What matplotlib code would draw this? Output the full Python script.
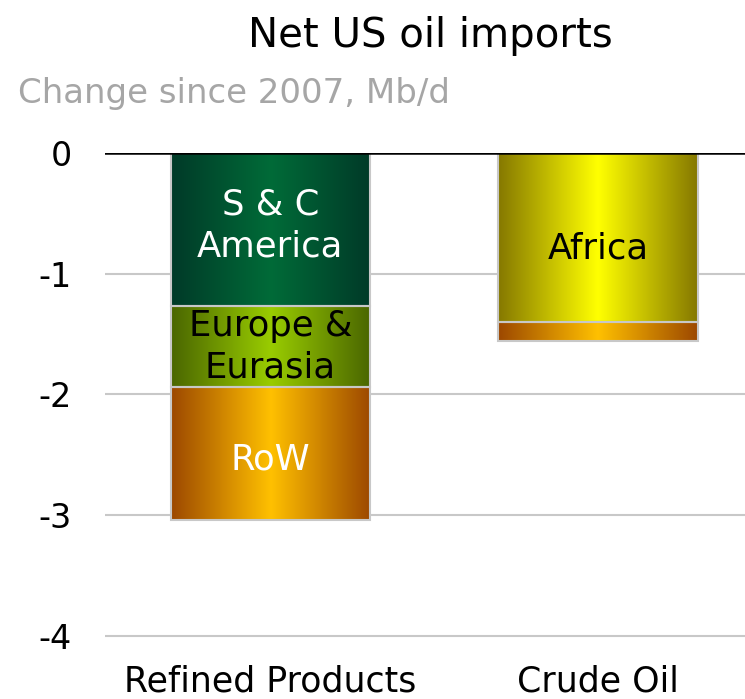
import numpy as np
import matplotlib
matplotlib.use("Agg")
import matplotlib.pyplot as plt
from matplotlib.colors import LinearSegmentedColormap

categories = ["Refined Products", "Crude Oil"]
# stacked segments
seg_cat = [0, 0, 0, 1, 1]
seg_labels = ["S & C\nAmerica", "Europe &\nEurasia", "RoW", "Africa", ""]
seg_values = [-1.27, -0.67, -1.10, -1.40, -0.16]
seg_edge = ["#003a28", "#4a6600", "#9c4800", "#857800", "#9c4800"]
seg_centre = ["#006b38", "#99cc00", "#ffc000", "#ffff00", "#ffc000"]
seg_text = ["white", "black", "white", "black", "black"]
seg_text_offset = [3, 0, -4, -8, 0]  # points, visual nudge of labels
yticks = [0, -1, -2, -3, -4]

fam = ["DejaVu Sans"]
plt.rcParams["font.family"] = fam
fig = plt.figure(figsize=(7.45, 6.99), dpi=100)
ax = fig.add_axes([105/745, 1-636/699 - 0.003, (745-105)/745, (636-153)/699 + 0.003])

width = 0.608
bottoms = {0: 0.0, 1: 0.0}
grad = np.abs(np.linspace(-1, 1, 256))[None, :]
for c, lab, v, ec, cc, tc, off in zip(seg_cat, seg_labels, seg_values, seg_edge, seg_centre,
                                       seg_text, seg_text_offset):
    b = bottoms[c]
    bars = ax.bar(c, v, width, bottom=b, color="none", edgecolor="#c8c8c8", linewidth=1.5, zorder=3)
    patch = bars[0]
    cmap = LinearSegmentedColormap.from_list("g", [cc, ec])
    im = ax.imshow(grad, cmap=cmap, aspect="auto", extent=[c - width/2, c + width/2, b + v, b],
                   zorder=2, interpolation="bicubic")
    im.set_clip_path(patch)
    if lab:
        ax.annotate(lab, (c, b + v/2), xytext=(0, off), textcoords="offset points",
                    ha="center", va="center", color=tc, fontsize=25.5,
                    linespacing=1.3, zorder=4)
    bottoms[c] = b + v

ax.set_xlim(-0.505, 1.449)
ax.set_ylim(-4.02, 0)
ax.set_yticks(yticks)
ax.set_yticklabels([str(t) for t in yticks], fontsize=24)
ax.set_xticks(range(len(categories)))
ax.set_xticklabels(categories, fontsize=25)
ax.tick_params(axis="y", length=0, pad=24)
ax.tick_params(axis="x", length=0, pad=19)
for s in ax.spines.values():
    s.set_visible(False)
ax.yaxis.grid(True, color="#c8c8c8", linewidth=1.5, zorder=0)
ax.set_axisbelow(True)
ax.axhline(0, color="black", linewidth=1.8, zorder=5)

fig.text(430/745, 1-36/699, "Net US oil imports", ha="center", va="center", fontsize=29)
fig.text(18/745, 1-93/699, "Change since 2007, Mb/d", ha="left", va="center", fontsize=24.5,
         color="#a6a6a6")

fig.savefig("out.png", dpi=100)
